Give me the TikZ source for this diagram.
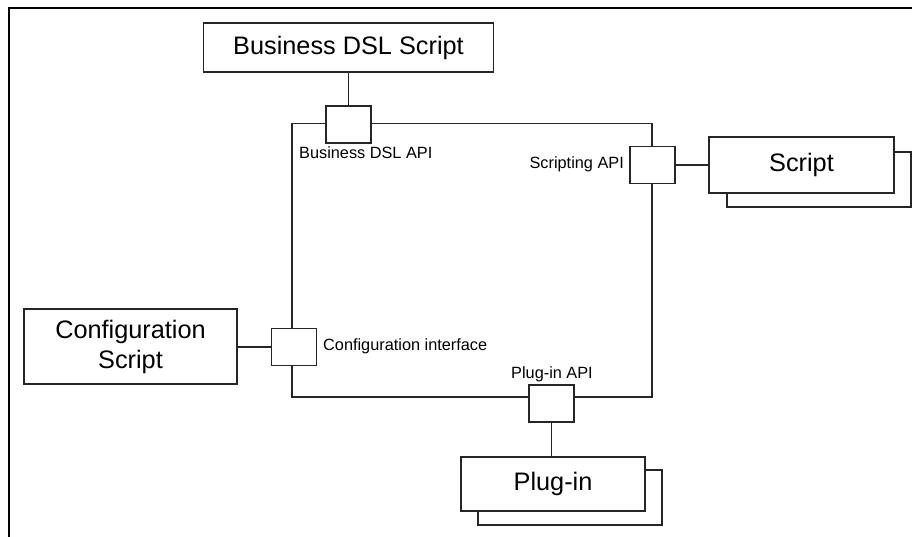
\documentclass[tikz,border=0pt]{standalone}
\usepackage{fontspec}
\setmainfont{Liberation Sans}
\begin{document}
\begin{tikzpicture}[x=1pt,y=-1pt,
  line/.style={draw=black!85,line width=1.1pt},
  bigbox/.style={line,fill=white,rectangle,inner sep=0pt,font=\fontsize{25.3}{30}\selectfont,align=center},
  port/.style={line,fill=white,rectangle,inner sep=0pt,minimum width=45pt,minimum height=37pt},
  lbl/.style={inner sep=0pt,font=\fontsize{16.3}{19}\selectfont}]
\useasboundingbox (0,0) rectangle (912,537);
\draw[line width=1.6pt,black] (9,537) -- (9,8) -- (912,8);
% main component
\draw[line] (292,123.5) rectangle (652,397);
% boxes
\node[bigbox,minimum width=290pt,minimum height=49pt] (bds) at (348.5,47.5) {Business DSL Script};
\node[bigbox,minimum width=184pt,minimum height=55pt] (scriptshadow) at (819,179.5) {};
\node[bigbox,minimum width=185pt,minimum height=56pt] (script) at (801.5,165) {Script};
\node[bigbox,minimum width=184pt,minimum height=55pt] (pluginshadow) at (570,497.5) {};
\node[bigbox,minimum width=184pt,minimum height=54pt] (plugin) at (553,484) {Plug-in};
\node[bigbox,minimum width=213pt,minimum height=75pt,font=\fontsize{25.3}{30}\selectfont] (conf) at (130.5,346.5) {Configuration\\Script};
% ports
\node[port] (pb) at (348.5,124.5) {};
\node[port] (ps) at (652.5,165) {};
\node[port] (pc) at (294,347) {};
\node[port] (pp) at (551.5,403.5) {};
% connectors
\draw[line] (bds.south) -- (pb.north);
\draw[line] (ps.east) -- (ps.east -| script.west);
\draw[line] (pc.west) -- (pc.west -| conf.east);
\draw[line] (pp.south) -- (pp.south |- plugin.north);
% labels
\node[lbl,anchor=west] (lb) at (299,153) {Business DSL API};
\node[lbl,anchor=east] (ls) at (624,164) {Scripting API};
\node[lbl,anchor=west] (lc) at (323,346) {Configuration interface};
\node[lbl] (lp) at (552,374) {Plug-in API};
\end{tikzpicture}
\end{document}
